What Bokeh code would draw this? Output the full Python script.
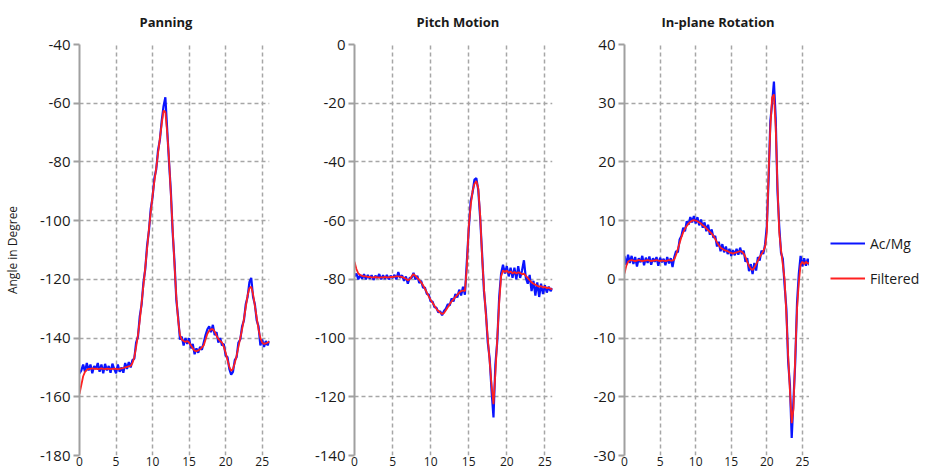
from bokeh.plotting import figure
from bokeh.layouts import row
from bokeh.models import Range1d, FixedTicker, Legend
from bokeh.embed import file_html
from bokeh.resources import INLINE

# sample times (s), one sample every 0.25 s
time_s = [i * 0.25 for i in range(105)]

panning_acmg = [
    -152, -151, -149, -151.5, -148.5, -151, -149, -152, -149.5, -150.5,
    -148.5, -151.5, -149, -152, -148.8, -151, -149.5, -151.8, -148.7, -150.5,
    -152, -149, -151.5, -150, -151.8, -148.5, -150.5, -148.2, -150, -147.5,
    -147, -141.5, -139.5, -132.5, -128.5, -121, -116.5, -108.5, -103.5, -96,
    -92, -85.5, -82.5, -76, -72.5, -66, -61, -58, -69, -80,
    -90, -104, -114, -127, -133, -140.5, -139.5, -142.5, -140, -142,
    -140, -143.5, -142, -145.5, -143.5, -145, -143, -144, -141.5, -139,
    -137, -136, -138, -135.5, -139, -138, -141.5, -140, -142.5, -142,
    -146, -146.5, -150.5, -152.5, -151.5, -147.5, -146.5, -141.5, -140.5, -136,
    -134, -128.5, -126, -121, -119.5, -126, -128.5, -134, -136, -142.5,
    -140.5, -143, -141, -142.5, -141]
panning_filtered = [
    -159, -156, -153, -151.5, -150.8, -150.5, -150.5, -150.3, -150.5, -150.4,
    -150.6, -150.5, -150.3, -150.5, -150.6, -150.4, -150.5, -150.6, -150.5, -150.4,
    -150.5, -150.6, -150.5, -150.3, -150.2, -150.0, -149.8, -149.6, -149.5, -148.5,
    -146.5, -143, -139, -134, -128, -122, -116, -109.5, -103, -97,
    -91.5, -86.5, -82, -77, -72, -67, -62.5, -63, -70, -79,
    -91, -103, -115, -126, -134, -139, -140.5, -141, -141.3, -141,
    -141.5, -142.5, -143.5, -144.3, -144.5, -144.2, -143.8, -143.2, -142.5, -140.5,
    -138.5, -137.5, -137, -137, -137.8, -139.2, -140.3, -141, -141.5, -143,
    -145, -147.5, -149.8, -151.2, -150.5, -148.5, -146, -143, -140, -137,
    -133.5, -129.5, -125.5, -123, -122.5, -125, -129, -133, -137, -140,
    -141.5, -142, -141.8, -141.5, -141.2]

pitch_acmg = [
    -79, -78, -80, -78.5, -79.8, -78.2, -80, -78.5, -79.8, -78.6,
    -80.2, -78.8, -79.5, -78.2, -80, -78.6, -79.9, -78.5, -80, -78.8,
    -79.5, -78.5, -80, -77.5, -79.5, -78.6, -80.5, -79, -81.5, -79.5,
    -79.5, -77.8, -80, -78.8, -81.2, -80.5, -82.8, -82.8, -85, -85.2,
    -87.5, -87.6, -89.5, -89.6, -91.2, -90.9, -92.2, -90.8, -90, -88.5,
    -88.9, -86.5, -87.5, -85, -86.2, -83.5, -85.5, -82.5, -85.2, -74,
    -63, -53.5, -50.5, -46, -45.5, -49.5, -59, -71, -84, -91,
    -101.5, -107, -118, -127, -109, -101, -86, -78, -75, -78,
    -75.5, -79, -76, -79.5, -76, -80, -75.5, -79.5, -77, -73.5,
    -79.5, -81.5, -78.5, -84, -80.5, -85.5, -81, -86, -81.5, -85,
    -82, -84.5, -82.5, -84, -83]
pitch_filtered = [
    -74, -76.5, -78, -78.5, -78.8, -79, -79, -79.2, -79.2, -79.3,
    -79.3, -79.2, -79.3, -79.4, -79.3, -79.3, -79.2, -79.3, -79.3, -79.2,
    -79.2, -79.1, -79.0, -79.0, -79.1, -79.2, -79.5, -79.8, -80.3, -80,
    -79, -78.2, -78.8, -79.5, -80.2, -81, -82, -83.2, -84.5, -85.8,
    -87, -88, -89, -90, -90.8, -91.3, -91.8, -91.5, -90.5, -89.5,
    -88.5, -87.5, -86.8, -86, -85.3, -84.5, -84, -83.8, -84, -76,
    -62, -55, -50, -47.5, -46.5, -49, -58, -72, -83, -92,
    -100, -108, -116, -122.5, -112, -100, -88, -79, -77, -77.5,
    -77, -77.8, -77.3, -78, -77.5, -78, -77.6, -77.8, -78.3, -78,
    -78.8, -79.5, -80.3, -81, -81.5, -81.8, -82.2, -82.5, -82.3, -82.8,
    -82.5, -83, -82.8, -83.2, -83.4]

rotation_acmg = [
    4, 2.5, 4.2, 2.8, 4, 2.6, 3.8, 2.2, 3.6, 2.9,
    4, 2.4, 3.7, 2.8, 3.9, 2.5, 3.6, 3, 3.8, 2.3,
    3.7, 2.9, 3.5, 2.4, 3.8, 2.7, 3.6, 2.1, 3.8, 4.8,
    4.6, 6.8, 7.4, 8.8, 8.2, 9.9, 9.3, 10.6, 9.7, 10.8,
    9.5, 10.6, 9.2, 10.2, 8.8, 9.7, 8.2, 9.3, 7.6, 8.5,
    7.1, 7.4, 5.6, 6.4, 4.8, 6, 4.6, 5.6, 4.3, 5.2,
    4, 5, 4.1, 5.2, 4.2, 5.4, 4.3, 4.9, 3, 3.6,
    1.4, 2.6, 0.9, 2.8, 1.5, 3.8, 3.2, 4.9, 4.3, 5.9,
    9, 17, 27, 30, 33.7, 27.5, 15, 9, 4.5, 3.5,
    -1, -5, -14, -18, -27, -20.5, -14, -4, 1, 4,
    2.2, 3.6, 2.3, 3.5, 2.4]
rotation_filtered = [
    1, 2.3, 3, 3.2, 3.3, 3.2, 3.1, 3.2, 3.3, 3.2,
    3.1, 3.2, 3.2, 3.3, 3.2, 3.1, 3.2, 3.2, 3.3, 3.2,
    3.1, 3.2, 3.2, 3.1, 3.2, 3.3, 3.2, 3.2, 3.4, 4.2,
    5.2, 6.2, 7.2, 8, 8.6, 9.1, 9.5, 9.8, 10, 10.1,
    10, 9.9, 9.7, 9.5, 9.2, 9, 8.7, 8.4, 8.1, 7.8,
    7.4, 6.9, 6.3, 5.8, 5.4, 5.2, 5, 4.9, 4.8, 4.6,
    4.5, 4.4, 4.5, 4.6, 4.7, 4.8, 4.7, 4.4, 3.8, 3,
    2.3, 1.8, 1.6, 2, 2.6, 3.2, 3.8, 4.3, 4.8, 5.5,
    8, 18, 26, 31, 31.5, 26, 16, 8, 5, 2.5,
    0, -6, -13, -19, -24.5, -22, -13, -5, -0.5, 2.5,
    3, 2.6, 3, 2.7, 2.8]

titles = ["Panning", "Pitch Motion", "In-plane Rotation"]
y_ticks = [list(range(-180, -39, 20)), list(range(-140, 1, 20)), list(range(-30, 41, 10))]
x_ticks = [0, 5, 10, 15, 20, 25]
series_names = ["Ac/Mg", "Filtered"]
series_colors = ["#0a14ff", "#ff2020"]
series_widths = [2.2, 1.8]

FONT = "Open Sans"
GRID = "#a6a6a6"

def make_panel(title, acmg, filt, yt, width, left, right, title_offset, ylabel=None):
    p = figure(width=width, height=472, output_backend="svg", toolbar_location=None,
               x_range=Range1d(0, 26), y_range=Range1d(yt[0], yt[-1]),
               min_border_left=left, min_border_right=right,
               min_border_top=44, min_border_bottom=17)
    p.outline_line_color = None
    xa = p.below[0]
    ya = p.left[0]
    p.title.text = title
    p.title.align = "left"
    p.title.vertical_align = "top"
    p.title.offset = title_offset
    p.title.text_font = FONT
    p.title.text_font_size = "13px"
    p.title.text_font_style = "bold"
    p.title.text_color = "#1a1a1a"
    p.title.standoff = 23
    xa.ticker = FixedTicker(ticks=x_ticks)
    ya.ticker = FixedTicker(ticks=yt)
    xa.major_label_overrides = {t: str(t) for t in x_ticks}
    ya.major_label_overrides = {t: str(t) for t in yt}
    for ax in (xa, ya):
        ax.major_label_text_font = FONT
        ax.major_label_text_color = "#1a1a1a"
        ax.minor_tick_line_color = None
    xa.axis_line_color = None
    xa.major_tick_line_color = None
    xa.major_tick_in = 0
    xa.major_tick_out = 0
    xa.major_label_text_font_size = "12px"
    xa.major_label_standoff = 1
    ya.major_label_text_font_size = "15px"
    ya.axis_line_color = "#a0a0a0"
    ya.axis_line_width = 2
    ya.major_tick_line_color = "#a0a0a0"
    ya.major_tick_line_width = 2
    ya.major_tick_in = 0
    ya.major_tick_out = 6
    ya.major_label_standoff = 3
    if ylabel:
        ya.axis_label = ylabel
        ya.axis_label_text_font = FONT
        ya.axis_label_text_font_size = "12px"
        ya.axis_label_text_font_style = "normal"
        ya.axis_label_text_color = "#1a1a1a"
        ya.axis_label_standoff = 16
    for g in (p.xgrid[0], p.ygrid[0]):
        g.grid_line_color = GRID
        g.grid_line_dash = "4 3"
        g.grid_line_width = 1.5
    p.line(time_s, acmg, line_color=series_colors[0], line_width=series_widths[0])
    p.line(time_s, filt, line_color=series_colors[1], line_width=series_widths[1])
    return p

p1 = make_panel(titles[0], panning_acmg, panning_filtered, y_ticks[0], 300, 79, 31, 60,
                "Angle in Degree")
p2 = make_panel(titles[1], pitch_acmg, pitch_filtered, y_ticks[1], 290, 54, 38, 62)
p3 = make_panel(titles[2], rotation_acmg, rotation_filtered, y_ticks[2], 219, 31, 0, 37)

# legend panel to the right of the last chart (its key lines fall outside its view)
pl = figure(width=126, height=472, output_backend="svg", toolbar_location=None,
            x_axis_type=None, y_axis_type=None,
            x_range=Range1d(1000, 1001), y_range=Range1d(1000, 1001),
            min_border_left=0, min_border_right=0, min_border_top=44, min_border_bottom=17)
pl.outline_line_color = None
pl.xgrid.visible = False
pl.ygrid.visible = False
key_b = pl.line(time_s, rotation_acmg, line_color=series_colors[0], line_width=series_widths[0])
key_r = pl.line(time_s, rotation_filtered, line_color=series_colors[1], line_width=series_widths[1])
legend = Legend(items=[(series_names[0], [key_b]), (series_names[1], [key_r])],
                location=(21, 167))
legend.border_line_color = None
legend.background_fill_alpha = 0
legend.label_text_font = FONT
legend.label_text_font_size = "14px"
legend.label_text_color = "#1a1a1a"
legend.glyph_width = 35
legend.glyph_height = 20
legend.label_height = 20
legend.label_standoff = 5
legend.spacing = 15
legend.padding = 0
legend.margin = 0
pl.add_layout(legend, "center")

layout = row(p1, p2, p3, pl)
open("out.html", "w").write(file_html(layout, INLINE))
